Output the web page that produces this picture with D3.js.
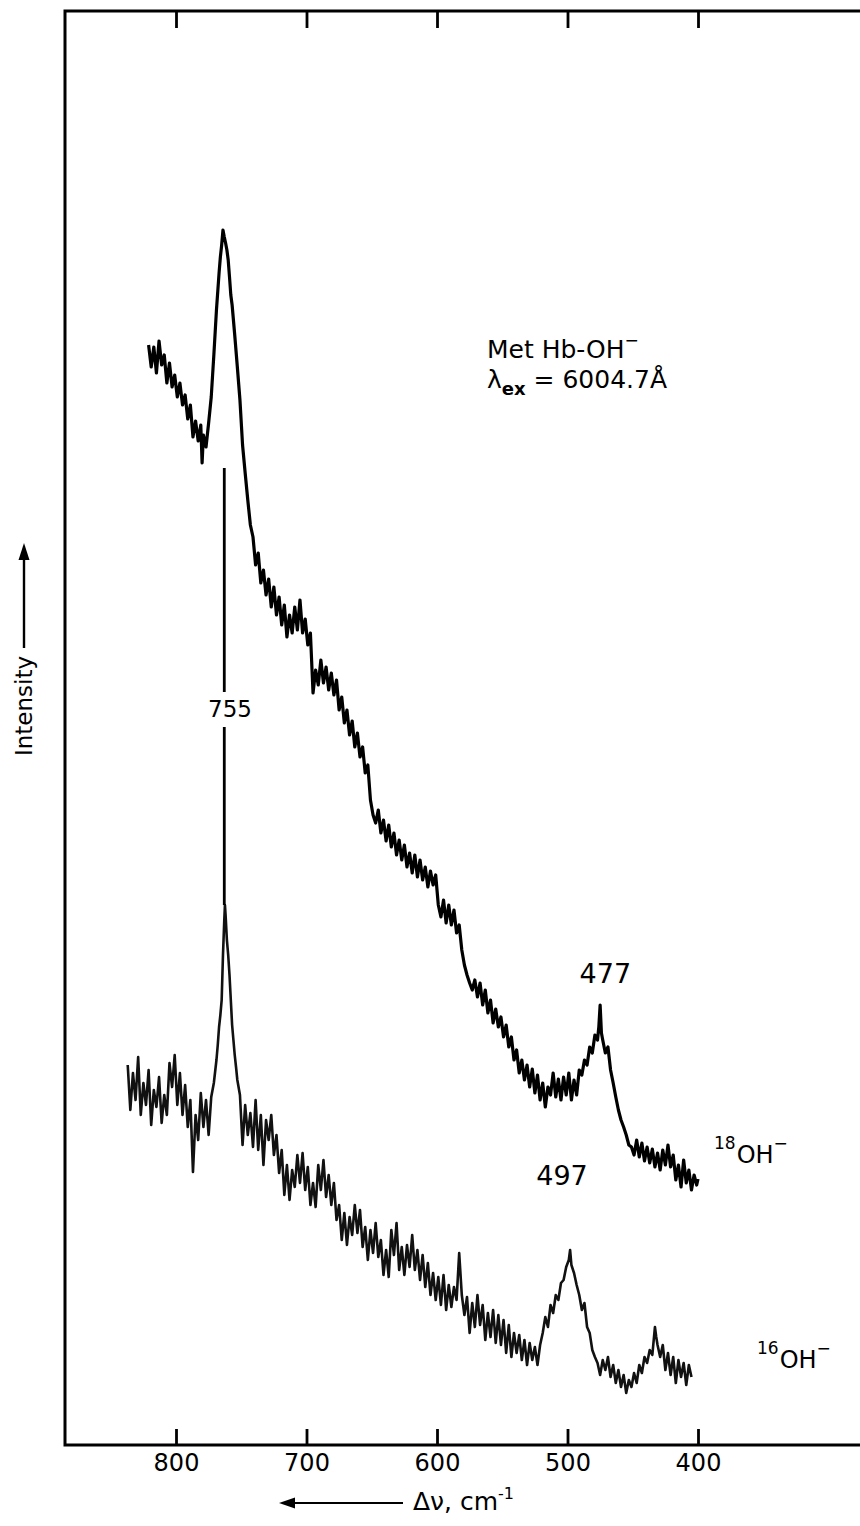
<!DOCTYPE html>
<html>
<head>
<meta charset="utf-8">
<script src="https://cdn.jsdelivr.net/npm/d3@7"></script>
<style>
html,body{margin:0;padding:0;background:#fff;}
svg{display:block;}
text{font-family:"DejaVu Sans","Liberation Sans",Arial,sans-serif;fill:#000;}
</style>
</head>
<body>
<svg id="chart" width="860" height="1526"></svg>
<script>
// x tick values (cm^-1)
const xTicks = [800, 700, 600, 500, 400];

// Upper spectrum (18OH-): [Raman shift cm^-1, intensity a.u.]
const spectrum18 = [
[821,1100],[819,1078],[817,1098],[815,1072],[813,1104],[811,1080],[809,1090],[807,1062],[805,1082],[803,1058],
[801,1070],[799,1048],[797,1062],[795,1040],[793,1050],[791,1026],[789,1040],[787,1008],[785,1024],[783,1004],
[781,1020],[780,982],[779,1010],[777,998],[775,1022],[773,1048],[771,1090],[769,1135],[767,1172],[766,1188],
[765,1200],[764,1215],[763,1208],[762,1202],[761,1195],[760,1185],[759,1168],[758,1150],[757,1140],[755,1110],
[753,1078],[751,1045],[749,1000],[747,972],[745,945],[743,920],[741,908],[739,880],[737,892],[735,862],
[733,875],[731,850],[729,866],[727,838],[725,858],[723,830],[721,848],[719,820],[717,840],[715,808],
[713,830],[711,812],[709,838],[707,815],[705,845],[703,812],[701,826],[699,800],[697,812],[695,752],
[693,775],[691,760],[689,785],[687,762],[685,778],[683,755],[681,772],[679,750],[677,765],[675,735],
[673,748],[671,722],[669,735],[667,710],[665,724],[663,698],[661,712],[659,688],[657,698],[655,672],
[653,680],[651,645],[649,630],[647,622],[645,635],[643,612],[641,625],[639,604],[637,620],[635,598],
[633,612],[631,590],[629,605],[627,585],[625,600],[623,578],[621,592],[619,572],[617,590],[615,568],
[613,585],[611,565],[609,578],[607,558],[605,574],[603,560],[601,570],[599,540],[597,528],[595,545],
[593,522],[591,540],[589,520],[587,535],[585,512],[583,520],[581,495],[579,480],[577,470],[575,462],
[573,455],[571,465],[569,448],[567,462],[565,440],[563,455],[561,432],[559,445],[557,422],[555,436],
[553,418],[551,428],[549,408],[547,420],[545,398],[543,408],[541,385],[539,395],[537,372],[535,385],
[533,365],[531,380],[529,358],[527,376],[525,352],[523,370],[521,345],[519,362],[517,338],[515,358],
[513,350],[511,372],[509,348],[507,366],[505,345],[503,368],[501,350],[499,372],[497,345],[495,365],
[493,350],[491,375],[489,370],[487,385],[485,380],[483,398],[481,392],[479,410],[477,405],[476,418],
[475,440],[474,412],[473,405],[471,392],[469,398],[467,375],[465,362],[463,348],[461,335],[459,325],
[457,318],[455,310],[453,300],[451,298],[449,290],[447,305],[445,288],[443,302],[441,284],[439,298],
[437,282],[435,296],[433,278],[431,292],[429,275],[427,295],[425,280],[423,300],[421,278],[419,290],
[417,265],[415,280],[413,258],[411,285],[409,262],[407,275],[405,255],[403,270],[401,260],[400,266]
];

// Lower spectrum (16OH-): [Raman shift cm^-1, intensity a.u.]
const spectrum16 = [
[837,380],[835,335],[833,372],[831,345],[829,388],[827,330],[825,362],[823,340],[821,375],[819,320],
[817,355],[815,338],[813,368],[811,322],[809,350],[807,330],[805,382],[803,358],[801,390],[799,340],
[797,372],[795,330],[793,360],[791,318],[789,345],[787,273],[785,330],[783,305],[781,352],[779,318],
[777,345],[775,310],[773,348],[771,362],[769,385],[768,400],[767,418],[766,430],[765,445],[764,490],
[763,525],[762.5,540],[762,530],[761,505],[760,490],[759,470],[758,445],[757,420],[756,405],[755,390],
[754,378],[753,365],[751,350],[749,300],[747,340],[745,310],[743,332],[741,298],[739,345],[737,295],
[735,330],[733,280],[731,325],[729,305],[727,330],[725,290],[723,310],[721,272],[719,295],[717,250],
[715,280],[713,245],[711,275],[709,258],[707,290],[705,262],[703,292],[701,255],[699,278],[697,240],
[695,262],[693,238],[691,280],[689,255],[687,285],[685,248],[683,270],[681,240],[679,262],[677,225],
[675,240],[673,205],[671,232],[669,200],[667,228],[665,210],[663,240],[661,212],[659,235],[657,198],
[655,218],[653,185],[651,215],[649,192],[647,222],[645,188],[643,205],[641,170],[639,195],[637,168],
[635,215],[633,190],[631,222],[629,175],[627,198],[625,170],[623,200],[621,178],[619,210],[617,175],
[615,195],[613,165],[611,190],[609,158],[607,182],[605,150],[603,172],[601,145],[599,168],[597,140],
[595,170],[593,135],[591,160],[589,138],[587,158],[585,145],[583,192],[581,150],[579,130],[577,148],
[575,112],[573,142],[571,118],[569,150],[567,120],[565,140],[563,105],[561,132],[559,108],[557,135],
[555,102],[553,130],[551,100],[549,125],[547,92],[545,120],[543,88],[541,112],[539,92],[537,110],
[535,85],[533,105],[531,80],[529,102],[527,85],[525,98],[523,80],[521,100],[519,112],[517,128],
[515,118],[513,140],[511,132],[509,150],[507,145],[505,162],[503,165],[501,178],[499,185],[498,195],
[497,180],[495,172],[493,160],[491,150],[489,135],[487,142],[485,118],[483,112],[481,95],[479,88],
[477,82],[475,70],[473,85],[471,75],[469,88],[467,68],[465,80],[463,62],[461,75],[459,58],
[457,70],[455,52],[453,65],[451,58],[449,72],[447,62],[445,80],[443,72],[441,88],[439,82],
[437,95],[435,90],[433,118],[432,108],[431,100],[429,88],[427,100],[425,75],[423,92],[421,70],
[419,88],[417,62],[415,85],[413,68],[411,82],[409,60],[407,80],[405,68]
];

// Peak annotations: [label, x (cm^-1), y (a.u.)]
const peakLabels = [["755", 758.6, 728], ["477", 471, 462], ["497", 504.2, 260]];
// 755 marker line: x position and two segments (a.u.)
const markerX = 763;
const markerSegments = [[977, 753], [718, 540]];

(function () {
const svg = d3.select("#chart");
const W = 860, H = 1526;
svg.append("rect").attr("width", W).attr("height", H).attr("fill", "#fff");

const mL = 65, mT = 11, mB = 1445, mR = 870;
const x = d3.scaleLinear().domain([800, 400]).range([176, 698]);
const y = d3.scaleLinear().domain([0, 1434]).range([mB, mT]);

// Frame
svg.append("path")
  .attr("d", `M${mR},${mT}H${mL}V${mB}H${mR}`)
  .attr("fill", "none").attr("stroke", "#000").attr("stroke-width", 3);

// Bottom axis (ticks inward + labels)
const axB = d3.axisBottom(x).tickValues(xTicks).tickSize(-16).tickPadding(26).tickFormat(d3.format("d"));
const gB = svg.append("g").attr("transform", `translate(0,${mB})`).call(axB);
gB.select(".domain").remove();
gB.selectAll(".tick line").attr("stroke", "#000").attr("stroke-width", 2.8);
gB.selectAll(".tick text").attr("font-size", 24).attr("dy", 0).attr("y", 26)
  .style("font-family", '"DejaVu Sans", sans-serif').attr("fill", "#000");

// Top axis (ticks inward, no labels)
const axT = d3.axisTop(x).tickValues(xTicks).tickSize(-17).tickFormat("");
const gT = svg.append("g").attr("transform", `translate(0,${mT})`).call(axT);
gT.select(".domain").remove();
gT.selectAll(".tick line").attr("stroke", "#000").attr("stroke-width", 2.8);

// Spectra
const line = d3.line().x(d => x(d[0])).y(d => y(d[1]));
svg.append("path").datum(spectrum18).attr("d", line)
  .attr("fill", "none").attr("stroke", "#000").attr("stroke-width", 3.2).attr("stroke-linejoin", "round");
svg.append("path").datum(spectrum16).attr("d", line)
  .attr("fill", "none").attr("stroke", "#111").attr("stroke-width", 2.6).attr("stroke-linejoin", "round");

// 755 marker line
markerSegments.forEach(s => {
  svg.append("line").attr("x1", x(markerX)).attr("x2", x(markerX))
    .attr("y1", y(s[0])).attr("y2", y(s[1]))
    .attr("stroke", "#000").attr("stroke-width", 2.8);
});

// Peak labels
peakLabels.forEach((p, i) => {
  svg.append("text").attr("x", x(p[1])).attr("y", y(p[2]))
    .attr("text-anchor", "middle").attr("font-size", i === 0 ? 23 : 27).text(p[0]);
});

// Sample / excitation annotation
const t1 = svg.append("text").attr("x", 487).attr("y", 358).attr("font-size", 25);
t1.append("tspan").text("Met Hb-OH");
t1.append("tspan").attr("dy", -12).attr("font-size", 17).text("−");
const t2 = svg.append("text").attr("x", 487).attr("y", 388).attr("font-size", 25);
t2.append("tspan").text("λ");
t2.append("tspan").attr("dy", 7).attr("font-size", 18).attr("font-weight", "bold").text("ex");
t2.append("tspan").attr("dy", -7).text(" = 6004.7Å");

// Isotope labels
function isoLabel(xp, yp, mass) {
  const t = svg.append("text").attr("x", xp).attr("y", yp).attr("font-size", 24);
  t.append("tspan").attr("dy", -14).attr("font-size", 17).text(mass);
  t.append("tspan").attr("dy", 14).attr("dx", 1).text("OH");
  t.append("tspan").attr("dy", -14).attr("font-size", 17).text("−");
}
isoLabel(714, 1163, "18");
isoLabel(757, 1368, "16");

// Y axis label with arrow
svg.append("text").attr("transform", "translate(32,706) rotate(-90)")
  .attr("text-anchor", "middle").attr("font-size", 23).text("Intensity");
svg.append("line").attr("x1", 24).attr("x2", 24).attr("y1", 648).attr("y2", 558)
  .attr("stroke", "#000").attr("stroke-width", 2.4);
svg.append("path").attr("d", "M24,543L18.5,560L29.5,560Z").attr("fill", "#000");

// X axis title with arrow
svg.append("line").attr("x1", 293).attr("x2", 403).attr("y1", 1503).attr("y2", 1503)
  .attr("stroke", "#000").attr("stroke-width", 2.2);
svg.append("path").attr("d", "M279,1503L295,1497.5L295,1508.5Z").attr("fill", "#000");
const tx = svg.append("text").attr("x", 413).attr("y", 1510).attr("font-size", 25);
tx.append("tspan").text("Δν, cm");
tx.append("tspan").attr("dy", -11).attr("font-size", 16).text("-1");
})();
</script>
</body>
</html>
